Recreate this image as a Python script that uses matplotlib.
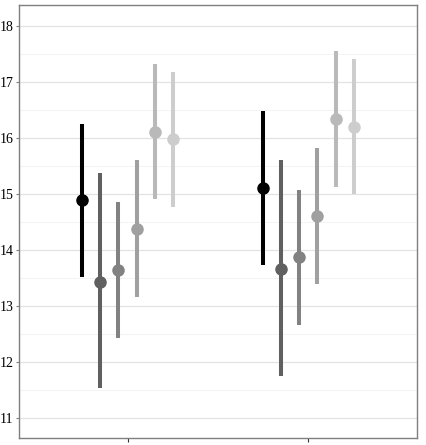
import matplotlib
matplotlib.use("Agg")
import matplotlib.pyplot as plt
import numpy as np

plt.rcParams["font.family"] = ["Liberation Serif", "DejaVu Serif"]

groups = [1, 2]
series_colors = ["#000000", "#606060", "#828282", "#a0a0a0", "#b9b9b9", "#cdcdcd"]
means_g1 = [14.89, 13.43, 13.64, 14.37, 16.10, 15.98]
low_g1 = [13.52, 11.54, 12.43, 13.17, 14.92, 14.77]
high_g1 = [16.25, 15.38, 14.86, 15.61, 17.32, 17.18]
means_g2 = [15.10, 13.67, 13.87, 14.61, 16.34, 16.19]
low_g2 = [13.74, 11.75, 12.67, 13.40, 15.13, 15.00]
high_g2 = [16.48, 15.61, 15.07, 15.82, 17.55, 17.41]
y_ticks = [11, 12, 13, 14, 15, 16, 17, 18]

means = [means_g1, means_g2]
lows = [low_g1, low_g2]
highs = [high_g1, high_g2]

fig = plt.figure(figsize=(4.26, 4.45), dpi=100)
ax = fig.add_axes([19/426, 1 - 438/445, (417-19)/426, (438-5)/445])

n = len(series_colors)
dodge = 0.6
offsets = (np.arange(n) - (n - 1) / 2) * dodge / n
for gi, g in enumerate(groups):
    for si in range(n):
        x = g + offsets[si]
        ax.plot([x, x], [lows[gi][si], highs[gi][si]], color=series_colors[si],
                lw=2.9, solid_capstyle="butt", zorder=3)
        ax.plot(x, means[gi][si], "o", color=series_colors[si], ms=8, zorder=4)

ax.set_yticks(y_ticks)
ax.set_yticks(np.arange(11.5, 18.0, 1.0), minor=True)
ax.set_xticks(groups)
ax.set_xticklabels([])
ax.set_xlim(0.4, 2.6)
ax.set_ylim(10.65, 18.37)
ax.tick_params(axis="x", which="both", length=3, color="#333333")
ax.tick_params(axis="y", which="major", length=2.5, color="#7f7f7f", pad=1.5,
               labelsize=10, labelcolor="#000000")
ax.tick_params(axis="y", which="minor", length=0)
ax.grid(True, axis="y", which="major", color="#e3e3e3", lw=0.9, zorder=0)
ax.grid(True, axis="y", which="minor", color="#f3f3f3", lw=0.7, zorder=0)
for s in ax.spines.values():
    s.set_color("#7f7f7f")
    s.set_linewidth(1.0)
ax.set_axisbelow(True)

fig.savefig("out.png", dpi=100)
